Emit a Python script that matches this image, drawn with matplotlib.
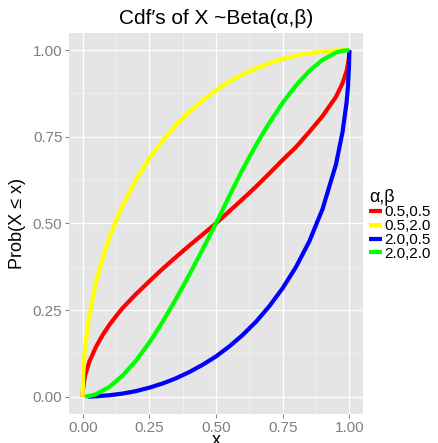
import matplotlib

matplotlib.use('Agg')
import matplotlib.pyplot as plt
from matplotlib.ticker import MultipleLocator

plt.rcParams['font.family'] = ['Liberation Sans', 'DejaVu Sans']

# series
etiquetas = ['0.5,0.5', '0.5,2.0', '2.0,0.5', '2.0,2.0']
cores = ['#FF0000', '#FFFF00', '#0000FF', '#00FF00']

x_comum = [0, 0.001, 0.005, 0.01, 0.025, 0.05, 0.075, 0.1, 0.125, 0.15, 0.2, 0.25, 0.3, 0.35, 0.4,
           0.45, 0.5, 0.55, 0.6, 0.65, 0.7, 0.75, 0.8, 0.85, 0.9, 0.95, 0.975, 0.99, 0.995, 0.999, 1.0]

y_vermelho = [0, 0.02, 0.045, 0.064, 0.101, 0.144, 0.178, 0.207, 0.232, 0.256, 0.296, 0.333, 0.369,
              0.403, 0.436, 0.468, 0.5, 0.535, 0.57, 0.606, 0.644, 0.683, 0.72, 0.764, 0.81, 0.865,
              0.905, 0.94, 0.96, 0.98, 1.0]
y_amarelo = [0, 0.047, 0.106, 0.15, 0.235, 0.33, 0.4, 0.459, 0.508, 0.552, 0.626, 0.688, 0.739,
             0.784, 0.822, 0.855, 0.884, 0.909, 0.93, 0.947, 0.962, 0.974, 0.984, 0.991, 0.996, 0.999,
             1.0, 1.0, 1.0, 1.0, 1.0]

x_azul = [0.02, 0.05, 0.1, 0.15, 0.2, 0.25, 0.3, 0.35, 0.4, 0.45, 0.5, 0.55, 0.6, 0.65, 0.7, 0.75,
          0.8, 0.85, 0.9, 0.95, 0.975, 0.99, 0.995, 0.999, 1.0]
y_azul = [0, 0.001, 0.004, 0.009, 0.016, 0.026, 0.038, 0.053, 0.071, 0.092, 0.116, 0.145, 0.178,
          0.216, 0.261, 0.313, 0.374, 0.448, 0.542, 0.67, 0.765, 0.85, 0.894, 0.953, 1.0]

x_verde = [0.009, 0.025, 0.05, 0.1, 0.15, 0.2, 0.25, 0.3, 0.35, 0.4, 0.45, 0.5, 0.55, 0.6, 0.65,
           0.7, 0.75, 0.8, 0.85, 0.9, 0.95, 0.975, 1.0]
y_verde = [0, 0.002, 0.007, 0.028, 0.061, 0.104, 0.156, 0.216, 0.282, 0.352, 0.425, 0.5, 0.579,
           0.656, 0.726, 0.79, 0.848, 0.898, 0.94, 0.972, 0.993, 0.998, 1.0]

series = [(x_comum, y_vermelho), (x_comum, y_amarelo), (x_azul, y_azul), (x_verde, y_verde)]

fig = plt.figure(figsize=(4.39, 4.43), dpi=100)
ax = fig.add_axes([0.158, 0.0655, 0.668, 0.8605])
ax.set_facecolor('#E5E5E5')

for (xs, ys), cor, rotulo in zip(series, cores, etiquetas):
    ax.plot(xs, ys, color=cor, linewidth=3, label=rotulo, solid_capstyle='butt')

ax.set_xlim(-0.05, 1.05)
ax.set_ylim(-0.05, 1.05)
ax.xaxis.set_major_locator(MultipleLocator(0.25))
ax.yaxis.set_major_locator(MultipleLocator(0.25))
ax.xaxis.set_minor_locator(MultipleLocator(0.125))
ax.yaxis.set_minor_locator(MultipleLocator(0.125))
ax.xaxis.set_major_formatter(lambda v, p: f'{v:.2f}')
ax.yaxis.set_major_formatter(lambda v, p: f'{v:.2f}')
ax.grid(which='major', color='white', linewidth=0.9)
ax.grid(which='minor', color='#F2F2F2', linewidth=0.6)
ax.set_axisbelow(True)
for s in ax.spines.values():
    s.set_visible(False)
ax.tick_params(which='major', length=3, width=0.7, color='#7F7F7F', labelcolor='#7F7F7F',
               labelsize=11, pad=2)
ax.tick_params(which='minor', length=0)

ax.set_title("Cdf\u2032s of X ~Beta(\u03b1,\u03b2)", fontsize=15, pad=6)
ax.set_xlabel('x', fontsize=13, labelpad=-2)
ax.set_ylabel('Prob(X \u2264 x)', fontsize=13, labelpad=5)

leg = ax.legend(loc='upper left', bbox_to_anchor=(0.816, 0.598), bbox_transform=fig.transFigure,
                title='\u03b1,\u03b2', fontsize=11, title_fontsize=13, frameon=False,
                handlelength=0.85, handletextpad=0.15, labelspacing=-0.02, borderpad=0.2)
leg._legend_box.align = 'left'
for linha in leg.get_lines():
    linha.set_linewidth(3)

fig.savefig('out.png', dpi=100)
